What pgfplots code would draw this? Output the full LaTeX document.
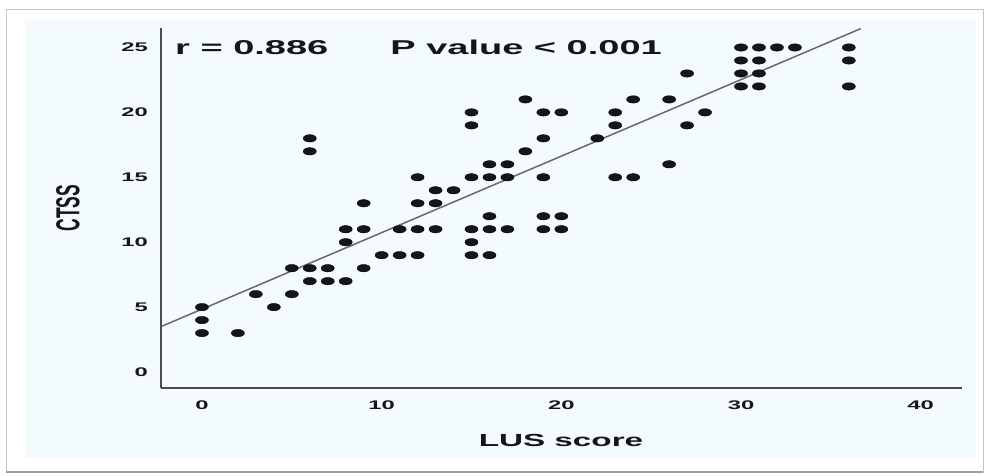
\documentclass[border=0pt]{standalone}
\usepackage{graphicx}
\usepackage{pgfplots}
\pgfplotsset{compat=1.18}
\usepackage{fontspec}
\setmainfont{Liberation Sans}
\newfontfamily\sbf{Liberation Sans Bold}[FakeStretch=1.9]
\newfontfamily\nbf{Liberation Sans Bold}
\definecolor{panel}{RGB}{244,251,254}
\definecolor{ink}{RGB}{22,22,22}
\definecolor{spine}{RGB}{75,75,75}
\definecolor{fitline}{RGB}{105,105,105}

\begin{document}
\begin{tikzpicture}[x=1pt,y=1pt]
\fill[white] (0,0) rectangle (987,475);
\draw[gray!45, line width=1pt] (6,3) rectangle (983,465);
\draw[gray!75, line width=2pt] (6,3) -- (983,3);
\fill[panel] (25,17) rectangle (976,455);
\begin{axis}[
  at={(161pt,87pt)}, anchor=south west,
  scale only axis, width=801pt, height=360pt,
  xmin=-2.28, xmax=42.3, ymin=-1.23, ymax=26.5,
  axis x line=bottom, axis y line=left,
  axis line style={-, spine, line width=1.8pt},
  xtick={0,10,20,30,40}, ytick={0,5,10,15,20,25},
  major tick length=0pt,
  /pgf/number format/assume math mode=true,
  tick label style={font=\sbf\fontsize{12.5}{14}\selectfont, text=ink},
  xticklabel style={anchor=center, yshift=-17pt},
  yticklabel style={anchor=east, inner sep=0pt, xshift=-13pt},
  clip=false,
]
\addplot[fitline, line width=1.5pt] coordinates {(-2.28,3.5) (36.66,26.45)};
\addplot[only marks, mark=*, mark size=3.7pt, mark options={xscale=1.77, draw=none, fill=ink}] coordinates {
(0,5) (0,4) (0,3) (2,3) (3,6) (4,5) (5,6) (5,8) (6,8) (7,8) (6,7) (7,7) (8,7)
(6,18) (6,17) (8,10) (8,11) (9,11) (9,13) (9,8) (10,9) (11,9) (12,9)
(11,11) (12,11) (13,11) (12,15) (12,13) (13,13) (13,14) (14,14)
(15,20) (15,19) (15,15) (15,11) (15,10) (15,9)
(16,15) (16,16) (16,12) (16,11) (16,9)
(17,16) (17,15) (17,11) (18,21) (18,17)
(19,20) (19,18) (19,15) (19,12) (19,11)
(20,20) (20,12) (20,11) (22,18) (23,20) (23,19) (23,15)
(24,21) (24,15) (26,21) (26,16) (27,23) (27,19) (28,20)
(30,25) (30,24) (30,23) (30,22) (31,25) (31,24) (31,23) (31,22)
(32,25) (33,25) (36,25) (36,24) (36,22)
};
\end{axis}
\node[text=ink, anchor=west, inner sep=0pt] at (175,428) {\sbf\fontsize{20}{24}\selectfont r = 0.886\hspace{62pt}P value < 0.001};
\node[text=ink, inner sep=0pt] at (561,35) {\sbf\fontsize{17.5}{20}\selectfont LUS score};
\node[text=ink, inner sep=0pt] at (68,267) {\scalebox{1.9}[1]{\rotatebox{90}{\nbf\fontsize{17.5}{20}\selectfont CTSS}}};
\pgfresetboundingbox
\path[use as bounding box] (0,0) rectangle (987,475);
\end{tikzpicture}
\end{document}
